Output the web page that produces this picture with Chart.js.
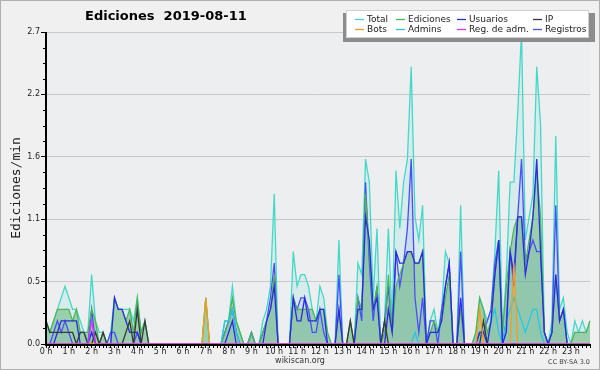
<!DOCTYPE html>
<html>
<head>
<meta charset="utf-8">
<title>Ediciones 2019-08-11</title>
<script src="https://cdn.jsdelivr.net/npm/chart.js@4.4.1/dist/chart.umd.min.js"></script>
<style>
html,body{margin:0;padding:0;background:#f0f0f0;}
canvas{display:block;}
</style>
</head>
<body>
<canvas id="chart" width="600" height="370"></canvas>
<script>
const chartTitle = 'Ediciones  2019-08-11';
const yAxisTitle = 'Ediciones/min';
const footerLeft = 'wikiscan.org';
const footerRight = 'CC BY-SA 3.0';
const hourLabels = ['0 h','1 h','2 h','3 h','4 h','5 h','6 h','7 h','8 h','9 h','10 h','11 h',
                    '12 h','13 h','14 h','15 h','16 h','17 h','18 h','19 h','20 h','21 h','22 h','23 h'];
const yTickValues = [0, 0.54, 1.08, 1.62, 2.16, 2.7];
const yTickLabels = ['0.0', '0.5', '1.1', '1.6', '2.2', '2.7'];
const seriesNames = ['Total', 'Ediciones', 'Usuarios', 'IP', 'Bots', 'Admins', 'Reg. de adm.', 'Registros'];

// one row per hour, 6 ten-minute slots per row (edits per minute)
const total = [
0.2,0.1,0.2,0.3,0.4,0.5,
0.4,0.3,0.3,0.2,0.1,0.1,
0.6,0.2,0.1,0.1,0,0.1,
0.4,0.3,0.3,0.3,0.3,0.2,
0.4,0.1,0.2,0,0,0,
0,0,0,0,0,0,
0,0,0,0,0,0,
0.4,0,0,0,0,0.2,
0.2,0.5,0.2,0.1,0,0,
0.1,0,0,0.2,0.3,0.5,
1.3,0,0,0,0,0.8,
0.5,0.6,0.6,0.5,0.3,0.2,
0.5,0.4,0.1,0,0,0.9,
0,0,0.2,0,0.7,0.6,
1.6,1.4,0.4,1.0,0,0.2,
1.0,0.2,1.5,1.0,1.4,1.6,
2.4,1.1,0.9,1.2,0,0.2,
0.3,0.1,0.3,0.8,0.7,0,
0,1.2,0,0,0,0.1,
0.4,0.3,0.2,0.3,0.8,1.5,
0.1,0.6,1.4,1.4,2.0,2.7,
0.9,1.1,1.3,2.4,1.9,0.1,
0,0.2,1.8,0.3,0.4,0.1,
0,0.2,0.1,0.2,0.1,0.2];

const edits = [
0.2,0.1,0.2,0.3,0.3,0.3,
0.3,0.2,0.3,0.1,0.1,0.1,
0.3,0.2,0,0.1,0,0,
0.4,0.3,0.3,0.2,0.3,0.1,
0.4,0.1,0.2,0,0,0,
0,0,0,0,0,0,
0,0,0,0,0,0,
0.4,0,0,0,0,0.1,
0.2,0.4,0.2,0.1,0,0,
0.1,0,0,0.1,0.2,0.3,
0.6,0,0,0,0,0.4,
0.3,0.3,0.3,0.3,0.3,0.2,
0.3,0.3,0.1,0,0,0.3,
0,0,0.2,0,0.4,0.3,
1.3,0.8,0.3,0.5,0,0.1,
0.6,0.1,0.5,0.6,0.7,0.8,
0.8,0.7,0.7,0.8,0,0.1,
0.2,0.1,0.2,0.4,0.6,0,
0,0.3,0,0,0,0.1,
0.4,0.3,0.1,0.2,0.6,0.9,
0.1,0.5,0.8,1.0,1.1,1.1,
0.7,0.9,1.1,1.5,1.1,0.1,
0,0.1,0.6,0.2,0.3,0,
0,0.1,0.1,0.1,0.1,0.2];

const usuarios = [
0,0,0,0.1,0.2,0.2,
0.2,0.2,0.2,0,0,0,
0.1,0,0,0,0,0,
0.4,0.3,0.3,0.2,0.1,0.1,
0.1,0,0,0,0,0,
0,0,0,0,0,0,
0,0,0,0,0,0,
0,0,0,0,0,0,
0.1,0.2,0,0,0,0,
0,0,0,0,0.2,0.3,
0.5,0,0,0,0,0.4,
0.2,0.2,0.4,0.2,0.2,0.2,
0.3,0.3,0,0,0,0.3,
0,0,0,0,0.3,0.3,
1.1,0.9,0.3,0.4,0,0,
0.3,0.1,0.8,0.7,0.7,0.8,
0.8,0.7,0.7,0.8,0,0.1,
0.1,0.1,0.2,0.5,0.7,0,
0,0.4,0,0,0,0,
0.1,0.1,0,0.2,0.6,0.9,
0,0.1,0.8,0.6,1.1,1.1,
0.6,0.8,1.1,1.6,0.8,0.1,
0,0.1,0.6,0.2,0.3,0,
0,0,0,0,0,0];

const ip = [
0.2,0.1,0.1,0.1,0.1,0.1,
0.1,0.1,0,0.1,0.1,0,
0,0.1,0,0.1,0,0,
0,0,0,0.1,0.2,0,
0.3,0,0.2,0,0,0,
0,0,0,0,0,0,
0,0,0,0,0,0,
0,0,0,0,0,0,
0,0,0,0,0,0,
0,0,0,0,0,0,
0,0,0,0,0,0,
0,0,0,0,0,0,
0,0,0,0,0,0,
0,0,0.2,0,0,0,
0,0,0,0,0,0.2,
0,0,0,0,0,0,
0,0,0,0,0,0,
0,0,0,0,0,0,
0,0,0,0,0,0,
0,0.2,0,0,0,0,
0,0,0,0,0,0,
0,0,0,0,0,0,
0,0,0,0,0,0,
0,0,0,0,0,0];

const bots = [
0,0,0,0,0,0,
0,0,0,0,0,0,
0,0,0,0,0,0,
0,0,0,0,0,0,
0,0,0,0,0,0,
0,0,0,0,0,0,
0,0,0,0,0,0,
0.4,0,0,0,0,0,
0,0,0,0,0,0,
0,0,0,0,0,0,
0,0,0,0,0,0,
0,0,0,0,0,0,
0,0,0,0,0,0,
0,0,0,0,0,0,
0,0,0,0,0,0,
0,0,0,0,0,0,
0,0,0,0,0,0,
0,0,0,0,0,0,
0,0,0,0,0,0,
0.3,0,0,0,0,0,
0,0,0,0.7,0,0,
0,0,0,0,0,0,
0,0,0,0,0,0,
0,0,0,0,0,0];

const admins = [
0,0,0,0,0,0,
0,0,0,0.1,0.1,0,
0.1,0,0,0,0,0,
0,0,0,0,0,0,
0,0,0,0,0,0,
0,0,0,0,0,0,
0,0,0,0,0,0,
0,0,0,0,0,0.2,
0.2,0.3,0.1,0,0,0,
0,0,0,0,0,0,
0,0,0,0,0,0,
0,0,0,0,0,0,
0,0,0,0,0,0,
0,0,0,0,0,0,
0,0,0,0,0,0,
0,0,0,0,0,0,
0,0.1,0,0,0,0,
0,0,0,0,0,0,
0,0,0,0,0,0,
0,0,0,0.2,0.3,0.1,
0,0.2,0.3,0.4,0.3,0.2,
0.1,0.2,0.3,0.3,0.1,0,
0,0,0,0,0,0,
0,0,0,0,0,0];

const regAdm = [
0,0,0,0,0,0,
0,0,0,0,0,0,
0.2,0,0,0,0,0,
0,0,0,0,0,0,
0,0,0,0,0,0,
0,0,0,0,0,0,
0,0,0,0,0,0,
0,0,0,0,0,0,
0,0,0,0,0,0,
0,0,0,0,0,0,
0,0,0,0,0,0,
0,0,0,0,0,0,
0,0,0,0,0,0,
0,0,0,0,0,0,
0,0,0,0,0,0,
0,0,0,0,0,0,
0,0,0,0,0,0,
0,0,0,0,0,0,
0,0,0,0,0,0,
0,0,0,0,0,0,
0,0,0,0,0,0,
0,0,0,0,0,0,
0,0,0,0,0,0,
0,0,0,0,0,0];

const registros = [
0,0,0.1,0.2,0.1,0.2,
0.1,0,0,0,0,0,
0.3,0,0,0,0,0.1,
0.1,0,0,0,0,0,
0.1,0,0,0,0,0,
0,0,0,0,0,0,
0,0,0,0,0,0,
0,0,0,0,0,0.1,
0.2,0.3,0.1,0,0,0,
0.1,0,0,0.1,0.2,0.4,
0.7,0,0,0,0,0.4,
0.3,0.4,0.4,0.3,0.1,0.1,
0.3,0.1,0,0,0,0.6,
0,0,0,0,0.4,0.2,
1.4,0.7,0.2,0.5,0,0.2,
0.5,0.1,0.8,0.5,0.7,1.0,
1.6,0.4,0.1,0.4,0,0.2,
0.2,0,0.3,0.5,0.7,0,
0,0.8,0,0,0,0,
0.1,0.1,0.2,0.3,0.7,0.9,
0,0.2,0.8,0.5,1.1,1.6,
0.7,0.8,0.9,0.8,0.8,0.1,
0,0.1,1.2,0.2,0.3,0,
0,0,0,0,0,0];

// ten-minute slot categories built from the hour labels
const slots = [];
hourLabels.forEach((h, hi) => {
  ['00','10','20','30','40','50'].forEach(m => slots.push(hi + ':' + m));
});

function ds(label, data, color, extra) {
  return Object.assign({
    label: label, data: data, borderColor: color, backgroundColor: color,
    borderWidth: 1.3, pointRadius: 0, pointHoverRadius: 0, fill: false, tension: 0
  }, extra || {});
}

const datasets = [
  ds(seriesNames[0], total, '#44d8c8', {fill: 'origin', backgroundColor: 'rgba(70,214,200,0.13)', order: 10}),
  ds(seriesNames[1], edits, '#4cb552', {fill: 'origin', backgroundColor: 'rgba(70,170,85,0.42)', borderWidth: 1.2, order: 8}),
  ds(seriesNames[2], usuarios, '#2a2ae0', {order: 5}),
  ds(seriesNames[3], ip, '#383838', {order: 4}),
  ds(seriesNames[4], bots, '#ff9a1a', {order: 3}),
  ds(seriesNames[5], admins, '#28c6e6', {order: 6}),
  ds(seriesNames[6], regAdm, '#dd33ee', {order: 2}),
  ds(seriesNames[7], registros, '#4c4cff', {fill: 'origin', backgroundColor: 'rgba(80,100,255,0.10)', order: 9})
];

const legendTextX = [367, 408, 469, 545];
const legendRowY = [19, 29];

const decor = {
  id: 'decor',
  beforeDraw(chart) {
    const {ctx, chartArea: a} = chart;
    ctx.save();
    ctx.fillStyle = '#f0f0f0';
    ctx.fillRect(0, 0, chart.width, chart.height);
    ctx.fillStyle = '#eceef0';
    ctx.fillRect(a.left, a.top, a.right - a.left, a.bottom - a.top);
    ctx.strokeStyle = '#b0b0b0';
    ctx.lineWidth = 1;
    ctx.strokeRect(0.5, 0.5, chart.width - 1, chart.height - 1);
    ctx.restore();
  },
  afterDatasetsDraw(chart) {
    const {ctx, chartArea: a} = chart;
    const ys = chart.scales.y;
    ctx.save();
    ctx.strokeStyle = '#000';
    ctx.lineWidth = 2;
    ctx.beginPath();
    ctx.moveTo(a.left, a.top);
    ctx.lineTo(a.left, a.bottom + 1);
    ctx.lineTo(a.right, a.bottom + 1);
    ctx.stroke();
    // minor y ticks
    ctx.lineWidth = 1;
    const step = yTickValues[1] / 4;
    for (let k = 0; k <= 20; k++) {
      if (k % 4 === 0) continue;
      const y = Math.round(ys.getPixelForValue(k * step)) + 0.5;
      ctx.beginPath();
      ctx.moveTo(a.left - 3, y);
      ctx.lineTo(a.left, y);
      ctx.stroke();
    }
    ctx.restore();
  },
  afterDraw(chart) {
    const {ctx} = chart;
    ctx.save();
    // title
    ctx.fillStyle = '#000';
    ctx.font = 'bold 13px "DejaVu Sans"';
    ctx.textBaseline = 'middle';
    ctx.textAlign = 'left';
    ctx.fillText(chartTitle, 85, 17);
    // legend box with shadow
    ctx.fillStyle = '#8c8c8c';
    ctx.fillRect(343, 13, 252, 29);
    ctx.fillStyle = '#ffffff';
    ctx.fillRect(346, 10, 243, 28);
    ctx.strokeStyle = '#d0d0d0';
    ctx.lineWidth = 1;
    ctx.strokeRect(346.5, 10.5, 242, 27);
    ctx.font = '9px "DejaVu Sans"';
    chart.data.datasets.forEach((d, i) => {
      const col = i % 4, row = Math.floor(i / 4);
      const tx = legendTextX[col], ty = legendRowY[row];
      ctx.strokeStyle = d.borderColor;
      ctx.lineWidth = 1.3;
      ctx.beginPath();
      ctx.moveTo(tx - 12, ty + 0.5);
      ctx.lineTo(tx - 3, ty + 0.5);
      ctx.stroke();
      ctx.fillStyle = '#222';
      ctx.fillText(d.label, tx, ty + 1);
    });
    // footer
    ctx.fillStyle = '#333';
    ctx.font = '8px "DejaVu Sans"';
    ctx.textAlign = 'center';
    ctx.fillText(footerLeft, 300, 361);
    ctx.font = '6.5px "DejaVu Sans"';
    ctx.textAlign = 'right';
    ctx.fillStyle = '#444';
    ctx.fillText(footerRight, 590, 362);
    ctx.restore();
  }
};

Chart.defaults.font.family = '"DejaVu Sans"';

new Chart(document.getElementById('chart'), {
  type: 'line',
  data: {labels: slots, datasets: datasets},
  options: {
    responsive: false,
    animation: false,
    devicePixelRatio: 1,
    layout: {padding: {left: 0, right: 10, top: 32, bottom: 0}},
    elements: {point: {radius: 0}, line: {tension: 0}},
    plugins: {
      legend: {display: false},
      tooltip: {enabled: false},
      filler: {drawTime: 'beforeDatasetsDraw'}
    },
    scales: {
      x: {
        type: 'category',
        offset: false,
        afterFit: s => { s.height = 26; },
        grid: {display: true, drawOnChartArea: false, drawTicks: true, tickLength: 4, color: '#000', tickColor: '#000'},
        border: {display: true, color: '#000', width: 1},
        ticks: {
          autoSkip: false, maxRotation: 0, minRotation: 0, padding: -1,
          color: '#222', font: {size: 8, family: '"DejaVu Sans"'},
          callback: (v, i) => (i % 6 === 0 ? hourLabels[i / 6] : '')
        }
      },
      y: {
        type: 'linear',
        min: 0,
        max: 2.7,
        afterBuildTicks: s => { s.ticks = yTickValues.map(v => ({value: v})); },
        afterFit: s => { s.width = 46; },
        grid: {
          color: c => (c.tick && c.tick.value === 0 ? 'rgba(0,0,0,0)' : '#c8c8c8'),
          tickColor: '#000', tickLength: 5, lineWidth: 1
        },
        border: {display: true, color: '#000', width: 1},
        ticks: {
          padding: 1, color: '#222', font: {size: 8, family: '"DejaVu Sans"'},
          callback: (v, i) => yTickLabels[i]
        },
        title: {
          display: true, text: yAxisTitle, color: '#1a1a1a',
          font: {size: 13, family: '"DejaVu Sans Mono"'},
          padding: {top: 9, bottom: 0}
        }
      }
    }
  },
  plugins: [decor]
});
</script>
</body>
</html>
